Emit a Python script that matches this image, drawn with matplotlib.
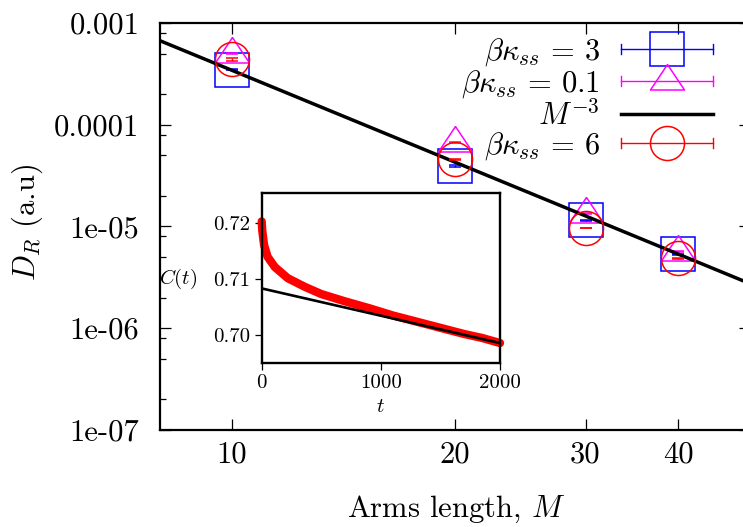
import numpy as np
import matplotlib
matplotlib.use('Agg')
import matplotlib.pyplot as plt
from matplotlib.lines import Line2D
from matplotlib.legend_handler import HandlerBase
from matplotlib.ticker import FixedLocator, FixedFormatter, NullLocator, NullFormatter, LogLocator

plt.rcParams['font.family'] = ['cmr10', 'DejaVu Serif']
plt.rcParams['mathtext.fontset'] = 'cm'
plt.rcParams['axes.unicode_minus'] = False
plt.rcParams['axes.formatter.use_mathtext'] = True

# ---------------- data ----------------
M = [10, 20, 30, 40]
D_k3 = [3.48e-4, 3.93e-5, 1.15e-5, 5.31e-6]
D_k3_err = [0.06e-4, 0.05e-5, 0.01e-5, 0.05e-6]
D_k01 = [4.97e-4, 6.69e-5, 1.34e-5, 5.64e-6]
D_k01_err = [0.05e-4, 0.05e-5, 0.01e-5, 0.05e-6]
D_k6 = [4.40e-4, 4.59e-5, 9.67e-6, 4.87e-6]
D_k6_err = [0.12e-4, 0.06e-5, 0.10e-6, 0.05e-6]

fit_prefactor = 0.343
fit_exponent = -3
M_range = [8.0, 50.0]

x_ticks = [10, 20, 30, 40]
x_ticklabels = ['10', '20', '30', '40']
y_ticks = [1e-7, 1e-6, 1e-5, 1e-4, 1e-3]
y_ticklabels = ['1e-07', '1e-06', '1e-05', '0.0001', '0.001']

# inset: correlation function C(t)
t_inset = [0, 5, 20, 50, 110, 220, 360, 500, 700, 900, 1100, 1300, 1500, 1700, 1850, 2000]
C_inset = [0.7202, 0.7185, 0.7160, 0.7139, 0.7121, 0.7101, 0.7086, 0.7073, 0.7060,
           0.7048, 0.7035, 0.7024, 0.7013, 0.7002, 0.6995, 0.6986]
t_fit = [0, 2000]
C_fit = [0.7083, 0.6986]
inset_xticks = [0, 1000, 2000]
inset_xticklabels = ['0', '1000', '2000']
inset_yticks = [0.70, 0.71, 0.72]
inset_yticklabels = ['0.70', '0.71', '0.72']

labels = [r'$\beta\kappa_{ss} \,=\, 3$', r'$\beta\kappa_{ss} \,=\, 0.1$', r'$M^{-3}$',
          r'$\beta\kappa_{ss} \,=\, 6$']

# ---------------- styles ----------------
BLUE = '#0000ff'
MAG = '#ff00ff'
RED = '#ff0000'
TRI = [(0, 1), (-1, -0.5), (1, -0.5), (0, 1)]
MS = 24.5
FS = 22
FS_IN = 15

W, H = 743, 527
fig = plt.figure(figsize=(W / 100, H / 100), dpi=100)
AX_L, AX_R, AX_T, AX_B = 160, 750, 23, 430
ax = fig.add_axes([AX_L / W, 1 - AX_B / H, (AX_R - AX_L) / W, (AX_B - AX_T) / H])
ax.set_xscale('log')
ax.set_yscale('log')

common = dict(mfc='none', mew=1.1, elinewidth=1.0, capsize=4, capthick=1.8, ls='none')
ax.errorbar(M, D_k3, yerr=D_k3_err, marker='s', ms=MS, mec=BLUE, ecolor=BLUE, zorder=3, **common)
ax.errorbar(M, D_k01, yerr=D_k01_err, marker=TRI, ms=MS, mec=MAG, ecolor=MAG, zorder=4, **common)
M_line = np.array(M_range)
line, = ax.plot(M_line, fit_prefactor * M_line ** fit_exponent, color='black', lw=2.5, zorder=5)
ax.errorbar(M, D_k6, yerr=D_k6_err, marker='o', ms=MS, mec=RED, ecolor=RED, zorder=6, **common)

ax.set_xlim(M_range)
ax.set_ylim(1e-7, 1e-3)
ax.xaxis.set_major_locator(FixedLocator(x_ticks))
ax.xaxis.set_major_formatter(FixedFormatter(x_ticklabels))
ax.xaxis.set_minor_locator(NullLocator())
ax.xaxis.set_minor_formatter(NullFormatter())
ax.yaxis.set_major_locator(FixedLocator(y_ticks))
ax.yaxis.set_major_formatter(FixedFormatter(y_ticklabels))
ax.yaxis.set_minor_locator(LogLocator(base=10, subs=(2, 5, 8)))
ax.yaxis.set_minor_formatter(NullFormatter())
ax.tick_params(which='both', direction='in', top=True, right=True, width=0.9, labelsize=FS)
ax.tick_params(which='major', length=8)
ax.tick_params(which='minor', length=4)
ax.tick_params(axis='y', pad=15)
ax.tick_params(axis='x', pad=8)
for s in ax.spines.values():
    s.set_linewidth(1.6)

ax_w = AX_R - AX_L
ax.set_xlabel(r'Arms length, $M$', fontsize=FS)
ax.xaxis.set_label_coords((456 - AX_L) / ax_w, (AX_B - 509) / (AX_B - AX_T))
ax.xaxis.label.set_va('center')
ax.set_ylabel(r'$D_R$ (a.u)', fontsize=FS)
ax.yaxis.set_label_coords((27 - AX_L) / ax_w, 0.51)
ax.yaxis.label.set_va('center')


# ---------------- legend ----------------
class HandlerErrKey(HandlerBase):
    def create_artists(self, legend, orig_handle, xdescent, ydescent, width, height, fontsize, trans):
        c = orig_handle.get_color()
        y = height / 2 - ydescent
        x0 = -xdescent
        x1 = x0 + width
        h = 3.6
        arts = [Line2D([x0, x1], [y, y], color=c, lw=1.0),
                Line2D([x0, x0], [y - h, y + h], color=c, lw=1.0),
                Line2D([x1, x1], [y - h, y + h], color=c, lw=1.0),
                Line2D([(x0 + x1) / 2], [y], marker=orig_handle.get_marker(),
                       ms=orig_handle.get_markersize(), mfc='none', mec=c, mew=1.1, ls='none')]
        for a in arts:
            a.set_transform(trans)
        return arts


h3 = Line2D([], [], color=BLUE, marker='s', ms=MS)
h01 = Line2D([], [], color=MAG, marker=TRI, ms=MS)
h6 = Line2D([], [], color=RED, marker='o', ms=MS)
hk = HandlerErrKey()
ax.legend([h3, h01, line, h6], labels, loc='upper right',
          bbox_to_anchor=((713 - AX_L) / ax_w, (AX_B - 36) / (AX_B - AX_T)),
          markerfirst=False, frameon=False, fontsize=FS, handlelength=3.0,
          handletextpad=0.7, labelspacing=0.0, borderpad=0, borderaxespad=0,
          handler_map={h3: hk, h01: hk, h6: hk})

# ---------------- inset ----------------
axin = fig.add_axes([261.7 / W, 1 - 363.3 / H, 238.3 / W, 170.6 / H])
axin.plot(t_inset, C_inset, color=RED, lw=6, solid_capstyle='round', solid_joinstyle='round',
          clip_on=False, zorder=2)
axin.plot(t_fit, C_fit, color='black', lw=1.9, zorder=3)
axin.set_xlim(0, 2000)
axin.set_ylim(0.695, 0.7253)
axin.xaxis.set_major_locator(FixedLocator(inset_xticks))
axin.xaxis.set_major_formatter(FixedFormatter(inset_xticklabels))
axin.yaxis.set_major_locator(FixedLocator(inset_yticks))
axin.yaxis.set_major_formatter(FixedFormatter(inset_yticklabels))
axin.tick_params(direction='out', top=False, right=False, length=5, width=0.9,
                 labelsize=FS_IN, pad=3)
for s in axin.spines.values():
    s.set_linewidth(1.7)
axin.set_xlabel(r'$t$', fontsize=FS_IN)
axin.xaxis.set_label_coords(0.5, (363.3 - 407) / 170.6)
axin.xaxis.label.set_va('center')
axin.set_ylabel(r'$C(t)$', fontsize=FS_IN, rotation=0)
axin.yaxis.set_label_coords((178 - 261.7) / 238.3, (363.3 - 278.7) / 170.6)
axin.yaxis.label.set_va('center')
axin.yaxis.label.set_ha('center')

fig.savefig('out.png', dpi=100)
